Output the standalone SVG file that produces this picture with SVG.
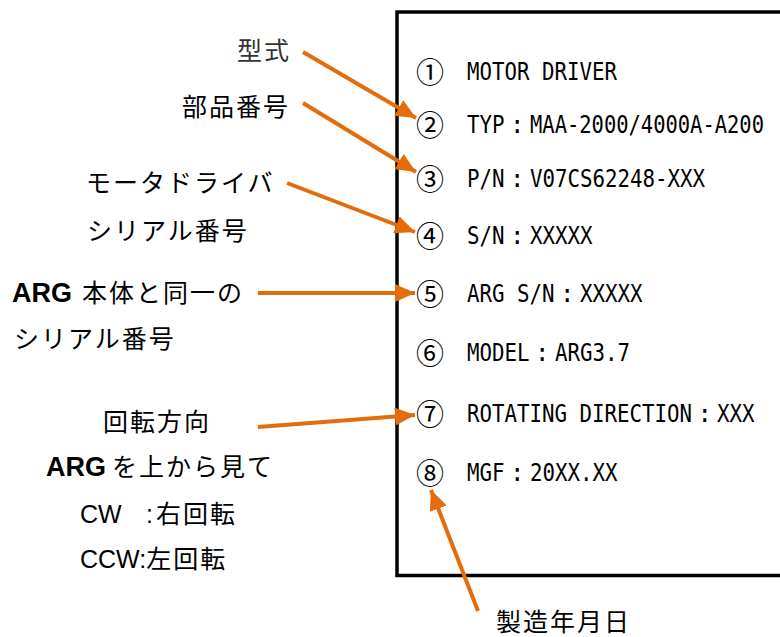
<svg xmlns="http://www.w3.org/2000/svg" width="780" height="637" viewBox="0 0 780 637">
<style>
.lbl{font-family:"Noto Sans CJK JP","Liberation Sans",sans-serif;font-size:25px;letter-spacing:2px;fill:#000}
.lat{font-family:"Liberation Sans",Arial,sans-serif;font-size:25px;letter-spacing:0;fill:#000}
.b{font-weight:bold;font-size:27px}
.mono{font-family:"DejaVu Sans Mono","Liberation Mono",monospace;font-size:24px;fill:#000}
.num{font-family:"Noto Sans CJK JP",sans-serif;font-size:28px;fill:#000;text-anchor:middle}
.arr{stroke:#E46C0A;stroke-width:4;fill:none;marker-end:url(#ah)}
</style>
<defs>
<marker id="ah" markerUnits="userSpaceOnUse" markerWidth="22" markerHeight="18" refX="20" refY="9" orient="auto">
<path d="M0,0 L20,9 L0,18 Z" fill="#E46C0A"/>
</marker>
</defs>
<rect x="0" y="0" width="780" height="637" fill="#fff"/>
<g id="plate">
<rect x="397" y="12" width="400" height="563.5" fill="#fff" stroke="#000" stroke-width="3.5"/>
<text class="num" x="430" y="83">①</text>
<text class="mono" x="467" y="80" textLength="150" lengthAdjust="spacingAndGlyphs">MOTOR DRIVER</text>
<text class="num" x="430" y="136">②</text>
<text class="mono" y="133"><tspan x="467" textLength="37.5" lengthAdjust="spacingAndGlyphs">TYP</tspan><tspan x="510">:</tspan><tspan x="530" textLength="234" lengthAdjust="spacingAndGlyphs">MAA-2000/4000A-A200</tspan></text>
<text class="num" x="430" y="190">③</text>
<text class="mono" y="187"><tspan x="467" textLength="37.5" lengthAdjust="spacingAndGlyphs">P/N</tspan><tspan x="510">:</tspan><tspan x="530" textLength="175" lengthAdjust="spacingAndGlyphs">V07CS62248-XXX</tspan></text>
<text class="num" x="430" y="247">④</text>
<text class="mono" y="244"><tspan x="467" textLength="37.5" lengthAdjust="spacingAndGlyphs">S/N</tspan><tspan x="510">:</tspan><tspan x="530" textLength="62.5" lengthAdjust="spacingAndGlyphs">XXXXX</tspan></text>
<text class="num" x="430" y="305">⑤</text>
<text class="mono" y="302"><tspan x="467" textLength="87.5" lengthAdjust="spacingAndGlyphs">ARG S/N</tspan><tspan x="560">:</tspan><tspan x="580" textLength="62.5" lengthAdjust="spacingAndGlyphs">XXXXX</tspan></text>
<text class="num" x="430" y="364">⑥</text>
<text class="mono" y="361"><tspan x="467" textLength="62.5" lengthAdjust="spacingAndGlyphs">MODEL</tspan><tspan x="535">:</tspan><tspan x="555" textLength="75" lengthAdjust="spacingAndGlyphs">ARG3.7</tspan></text>
<text class="num" x="430" y="425">⑦</text>
<text class="mono" y="422"><tspan x="467" textLength="225" lengthAdjust="spacingAndGlyphs">ROTATING DIRECTION</tspan><tspan x="697.5">:</tspan><tspan x="717" textLength="37.5" lengthAdjust="spacingAndGlyphs">XXX</tspan></text>
<text class="num" x="430" y="484">⑧</text>
<text class="mono" y="481"><tspan x="467" textLength="37.5" lengthAdjust="spacingAndGlyphs">MGF</tspan><tspan x="510">:</tspan><tspan x="530" textLength="87.5" lengthAdjust="spacingAndGlyphs">20XX.XX</tspan></text>
</g>
<g id="label-type"><text class="lbl" x="237" y="60" style="fill:#333">型式</text></g>
<g id="label-part"><text class="lbl" x="182" y="116">部品番号</text></g>
<g id="label-sn"><text class="lbl" x="86" y="192">モータドライバ</text><text class="lbl" x="87" y="240">シリアル番号</text></g>
<g id="label-argsn"><text class="lbl" x="12" y="302"><tspan class="lat b">ARG</tspan><tspan x="82">本体と同一の</tspan></text><text class="lbl" x="14" y="348">シリアル番号</text></g>
<g id="label-rot">
<text class="lbl" x="103" y="431">回転方向</text>
<text class="lbl" x="46" y="476"><tspan class="lat b">ARG</tspan><tspan x="112">を上から見て</tspan></text>
<text class="lbl" x="80" y="523"><tspan class="lat">CW</tspan><tspan class="lat" x="146">:</tspan><tspan x="156">右回転</tspan></text>
<text class="lbl" x="80" y="568"><tspan class="lat">CCW:</tspan>左回転</text>
</g>
<g id="label-date"><text class="lbl" x="496" y="631">製造年月日</text></g>
<g id="connectors">
<line class="arr" x1="303" y1="52" x2="416" y2="118"/>
<line class="arr" x1="303" y1="103" x2="416" y2="172"/>
<line class="arr" x1="287" y1="183" x2="415" y2="232"/>
<line class="arr" x1="258" y1="293" x2="415" y2="293"/>
<line class="arr" x1="258" y1="427" x2="415" y2="415"/>
<line class="arr" x1="478" y1="611" x2="431" y2="490"/>
</g>
</svg>
